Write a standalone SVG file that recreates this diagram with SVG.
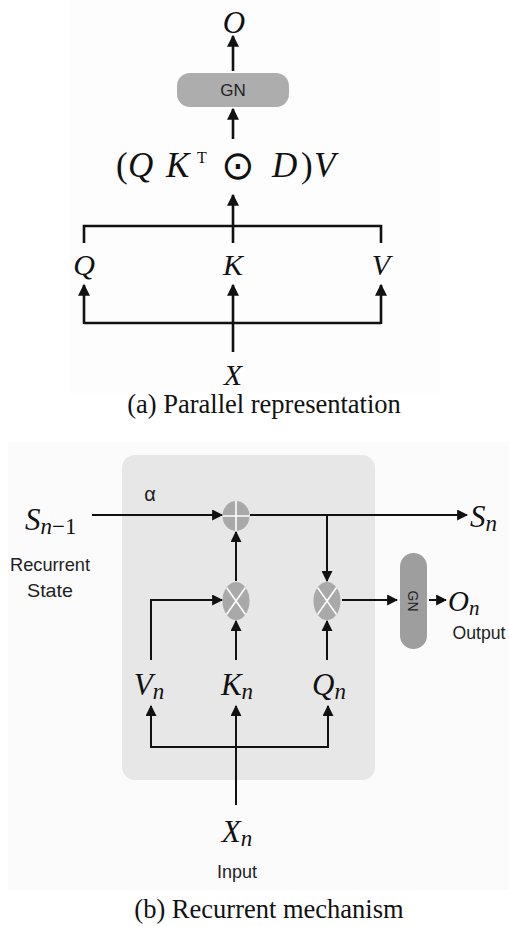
<svg xmlns="http://www.w3.org/2000/svg" width="509" height="926" viewBox="0 0 509 926">
<style>
.m{font-family:"Liberation Serif","Times New Roman",serif;font-style:italic;fill:#111}
.cap{font-family:"Liberation Serif","Times New Roman",serif;font-size:26.5px;fill:#111}
.s{font-family:"Liberation Sans",Arial,sans-serif;fill:#222}
.la{stroke:#111;stroke-width:2.6;fill:none}
.lb{stroke:#111;stroke-width:2;fill:none}
</style>
<defs>
<marker id="ah" viewBox="0 0 10 10" refX="9" refY="5" markerWidth="4.6" markerHeight="4.6" orient="auto" markerUnits="strokeWidth"><path d="M0,0 L10,5 L0,10 z" fill="#111"/></marker>
<marker id="bh" viewBox="0 0 10 10" refX="9" refY="5" markerWidth="5.5" markerHeight="5.5" orient="auto" markerUnits="strokeWidth"><path d="M0,0 L10,5 L0,10 z" fill="#111"/></marker>
</defs>
<rect width="509" height="926" fill="#fff"/>
<rect x="70" y="0" width="370" height="393" fill="#fdfdfd"/>
<rect x="8" y="442" width="501" height="448" fill="#fbfbfb"/>
<!-- Part (a) -->
<g id="a-O"><text class="m" x="234" y="33" font-size="31" text-anchor="middle">O</text></g>
<g id="a-GN"><rect x="177" y="73" width="112" height="34" rx="13" fill="#adadad"/><text class="s" x="233" y="96" font-size="17" text-anchor="middle" fill="#333">GN</text></g>
<g id="a-formula"><text class="m" y="177" font-size="35"><tspan x="116" font-style="normal">(</tspan><tspan x="128">Q</tspan><tspan x="166">K</tspan><tspan x="197" y="163" font-size="16" font-style="normal">T</tspan><tspan x="221" y="179" font-size="40" font-style="normal" font-family="DejaVu Sans, sans-serif">⊙</tspan><tspan x="272" y="177">D</tspan><tspan x="301" font-style="normal">)</tspan><tspan x="314">V</tspan></text></g>
<g id="a-Q"><text class="m" x="84" y="275" font-size="30" text-anchor="middle">Q</text></g>
<g id="a-K"><text class="m" x="233" y="275" font-size="30" text-anchor="middle">K</text></g>
<g id="a-V"><text class="m" x="381" y="275" font-size="30" text-anchor="middle">V</text></g>
<g id="a-X"><text class="m" x="233" y="385" font-size="30" text-anchor="middle">X</text></g>
<g id="a-caption"><text class="cap" x="264" y="413" text-anchor="middle">(a) Parallel representation</text></g>
<g id="a-connectors">
<line class="la" x1="233" y1="71" x2="233" y2="36" marker-end="url(#ah)"/>
<line class="la" x1="233" y1="139" x2="233" y2="109" marker-end="url(#ah)"/>
<line class="la" x1="233" y1="243" x2="233" y2="195" marker-end="url(#ah)"/>
<polyline class="la" points="84,243 84,226 381,226 381,243"/>
<polyline class="la" points="84,323 381,323"/>
<line class="la" x1="84" y1="324" x2="84" y2="285" marker-end="url(#ah)"/>
<line class="la" x1="381" y1="324" x2="381" y2="285" marker-end="url(#ah)"/>
<line class="la" x1="233" y1="352" x2="233" y2="285" marker-end="url(#ah)"/>
</g>
<!-- Part (b) -->
<g id="b-panel"><rect x="122" y="455" width="253" height="325" rx="13" fill="#e7e7e7"/></g>
<g id="b-alpha"><text class="s" x="150" y="501" font-size="20" text-anchor="middle" fill="#1e1e3c">α</text></g>
<g id="b-Sn1"><text class="m" x="25" y="530" font-size="31">S<tspan font-size="23" dy="4">n</tspan><tspan font-size="23" font-style="normal">−1</tspan></text></g>
<g id="b-recurrent"><text class="s" x="50" y="571" font-size="19" text-anchor="middle" textLength="80" lengthAdjust="spacingAndGlyphs">Recurrent</text><text class="s" x="50" y="597" font-size="19" text-anchor="middle" textLength="46" lengthAdjust="spacingAndGlyphs">State</text></g>
<g id="b-plus"><ellipse cx="236" cy="516" rx="13.5" ry="15" fill="#a9a9a9"/><path d="M236,501 V531 M222.5,516 H249.5" stroke="#fff" stroke-width="1.6"/></g>
<g id="b-mul1"><ellipse cx="236" cy="601" rx="13.5" ry="19" fill="#a9a9a9"/><path d="M226.5,587.5 L245.5,614.5 M245.5,587.5 L226.5,614.5" stroke="#fff" stroke-width="1.6"/></g>
<g id="b-mul2"><ellipse cx="327" cy="601" rx="13.5" ry="19" fill="#a9a9a9"/><path d="M317.5,587.5 L336.5,614.5 M336.5,587.5 L317.5,614.5" stroke="#fff" stroke-width="1.6"/></g>
<g id="b-Sn"><text class="m" x="470" y="527" font-size="31">S<tspan font-size="23" dy="4">n</tspan></text></g>
<g id="b-GN"><rect x="400" y="553" width="27" height="96" rx="13.5" fill="#9e9e9e"/><text class="s" transform="translate(408,601) rotate(90)" font-size="14" text-anchor="middle" fill="#333">GN</text></g>
<g id="b-On"><text class="m" x="448" y="611" font-size="29">O<tspan font-size="21" dy="4">n</tspan></text></g>
<g id="b-output"><text class="s" x="479" y="639" font-size="18" text-anchor="middle" textLength="53" lengthAdjust="spacingAndGlyphs">Output</text></g>
<g id="b-Vn"><text class="m" x="149" y="695" font-size="31" text-anchor="middle">V<tspan font-size="23" dy="4">n</tspan></text></g>
<g id="b-Kn"><text class="m" x="237" y="695" font-size="31" text-anchor="middle">K<tspan font-size="23" dy="4">n</tspan></text></g>
<g id="b-Qn"><text class="m" x="329" y="695" font-size="31" text-anchor="middle">Q<tspan font-size="23" dy="4">n</tspan></text></g>
<g id="b-Xn"><text class="m" x="237" y="842" font-size="31" text-anchor="middle">X<tspan font-size="23" dy="4">n</tspan></text></g>
<g id="b-input"><text class="s" x="237" y="878" font-size="18" text-anchor="middle" textLength="40" lengthAdjust="spacingAndGlyphs">Input</text></g>
<g id="b-caption"><text class="cap" x="269" y="918" font-size="27" text-anchor="middle">(b) Recurrent mechanism</text></g>
<g id="b-connectors">
<line class="lb" x1="92" y1="515" x2="222" y2="515" marker-end="url(#bh)"/>
<line class="lb" x1="250" y1="515" x2="467" y2="515" marker-end="url(#bh)"/>
<line class="lb" x1="327" y1="515" x2="327" y2="581" marker-end="url(#bh)"/>
<line class="lb" x1="236" y1="581" x2="236" y2="532" marker-end="url(#bh)"/>
<polyline class="lb" points="151,660 151,600 222,600" marker-end="url(#bh)"/>
<line class="lb" x1="236" y1="660" x2="236" y2="621" marker-end="url(#bh)"/>
<line class="lb" x1="327" y1="660" x2="327" y2="621" marker-end="url(#bh)"/>
<line class="lb" x1="342" y1="600" x2="397" y2="600" marker-end="url(#bh)"/>
<line class="lb" x1="429" y1="600" x2="446" y2="600" marker-end="url(#bh)"/>
<polyline class="lb" points="151,706 151,747 328,747 328,706"/>
<line class="lb" x1="151" y1="720" x2="151" y2="706" marker-end="url(#bh)"/>
<line class="lb" x1="328" y1="720" x2="328" y2="706" marker-end="url(#bh)"/>
<line class="lb" x1="236" y1="805" x2="236" y2="706" marker-end="url(#bh)"/>
</g>
</svg>
